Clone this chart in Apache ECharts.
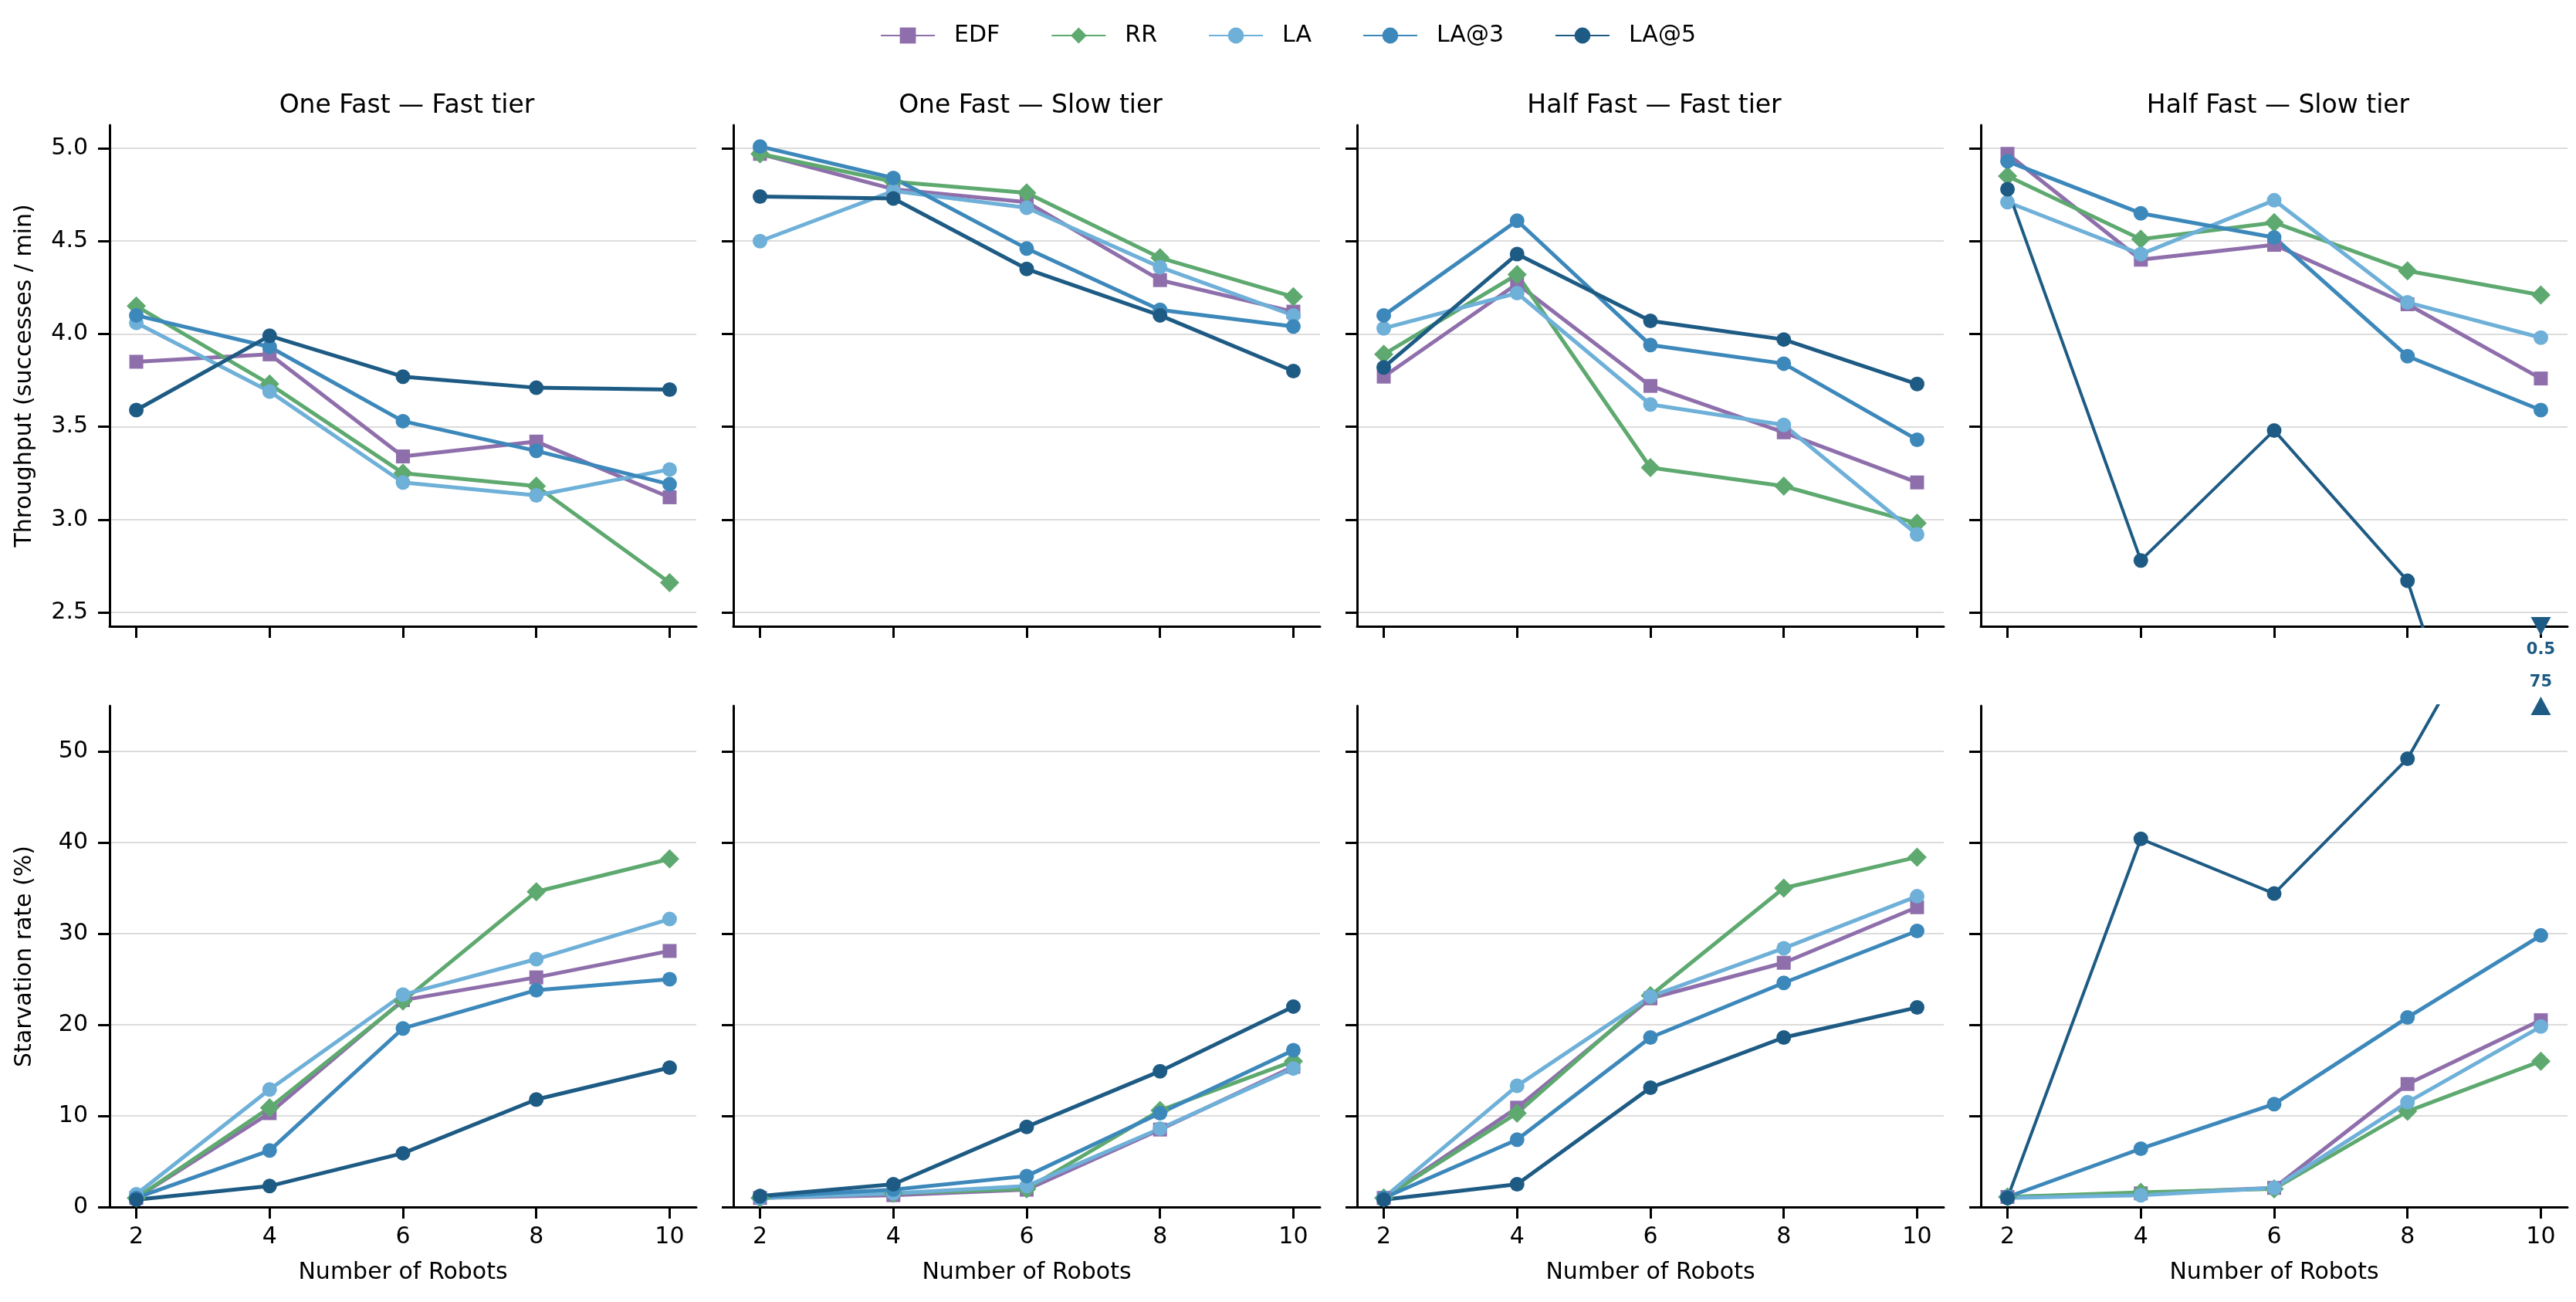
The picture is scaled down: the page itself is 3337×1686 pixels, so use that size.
<!DOCTYPE html>
<html style="height: 100%">
<head>
  <meta charset="utf-8">
</head>
<body style="height: 100%; margin: 0; background: #fff">
  <div id="container" style="height: 100%"></div>

  <script type="text/javascript" src="https://cdn.jsdelivr.net/npm/echarts@6.0.0/dist/echarts.min.js"></script>
  <script type="text/javascript">
    var robots = [2, 4, 6, 8, 10];
    var methods = ['EDF', 'RR', 'LA', 'LA@3', 'LA@5'];
    var panelTitles = ['One Fast — Fast tier', 'One Fast — Slow tier', 'Half Fast — Fast tier', 'Half Fast — Slow tier'];
    var throughputTicks = [2.5, 3.0, 3.5, 4.0, 4.5, 5.0];
    var starvationTicks = [0, 10, 20, 30, 40, 50];

    // one row per method, in the order of `methods`
    var throughputOneFastFast = [
      [3.85, 3.89, 3.34, 3.42, 3.12],
      [4.15, 3.73, 3.25, 3.18, 2.66],
      [4.06, 3.69, 3.20, 3.13, 3.27],
      [4.10, 3.93, 3.53, 3.37, 3.19],
      [3.59, 3.99, 3.77, 3.71, 3.70]
    ];
    var throughputOneFastSlow = [
      [4.97, 4.78, 4.71, 4.29, 4.12],
      [4.97, 4.82, 4.76, 4.41, 4.20],
      [4.50, 4.77, 4.68, 4.36, 4.10],
      [5.01, 4.84, 4.46, 4.13, 4.04],
      [4.74, 4.73, 4.35, 4.10, 3.80]
    ];
    var throughputHalfFastFast = [
      [3.77, 4.27, 3.72, 3.47, 3.20],
      [3.89, 4.32, 3.28, 3.18, 2.98],
      [4.03, 4.22, 3.62, 3.51, 2.92],
      [4.10, 4.61, 3.94, 3.84, 3.43],
      [3.82, 4.43, 4.07, 3.97, 3.73]
    ];
    var throughputHalfFastSlow = [
      [4.97, 4.40, 4.48, 4.16, 3.76],
      [4.85, 4.51, 4.60, 4.34, 4.21],
      [4.71, 4.43, 4.72, 4.17, 3.98],
      [4.93, 4.65, 4.52, 3.88, 3.59],
      [4.78, 2.78, 3.48, 2.67, 0.5]
    ];

    var starvationOneFastFast = [
      [1.0, 10.3, 22.7, 25.2, 28.1],
      [1.0, 10.9, 22.6, 34.6, 38.2],
      [1.4, 12.9, 23.3, 27.2, 31.6],
      [1.0, 6.2, 19.6, 23.8, 25.0],
      [0.8, 2.3, 5.9, 11.8, 15.3]
    ];
    var starvationOneFastSlow = [
      [1.0, 1.3, 1.9, 8.5, 15.4],
      [1.0, 1.5, 2.0, 10.6, 16.0],
      [1.0, 1.5, 2.3, 8.6, 15.2],
      [1.1, 1.9, 3.4, 10.3, 17.2],
      [1.2, 2.5, 8.8, 14.9, 22.0]
    ];
    var starvationHalfFastFast = [
      [1.0, 10.9, 22.9, 26.8, 32.9],
      [1.0, 10.3, 23.2, 35.0, 38.4],
      [1.0, 13.3, 23.1, 28.4, 34.1],
      [1.0, 7.4, 18.6, 24.6, 30.3],
      [0.8, 2.5, 13.1, 18.6, 21.9]
    ];
    var starvationHalfFastSlow = [
      [1.1, 1.5, 2.1, 13.5, 20.5],
      [1.1, 1.6, 2.0, 10.5, 16.0],
      [1.0, 1.3, 2.1, 11.5, 19.8],
      [1.1, 6.4, 11.3, 20.8, 29.8],
      [1.0, 40.4, 34.4, 49.2, 75]
    ];

    var throughput = [throughputOneFastFast, throughputOneFastSlow, throughputHalfFastFast, throughputHalfFastSlow];
    var starvation = [starvationOneFastFast, starvationOneFastSlow, starvationHalfFastFast, starvationHalfFastSlow];

    var colors = ['#8f6fab', '#5ea96f', '#6eb0d8', '#3d88bb', '#1e5b84'];
    var symbols = ['rect', 'diamond', 'circle', 'circle', 'circle'];
    var symbolSizes = [18, 25, 19, 19, 19];
    var font = 'DejaVu Sans';

    var topRange = [2.425, 5.125];
    var bottomRange = [0, 55];

    var dom = document.getElementById("container");
    var myChart = echarts.init(dom);

    var grids = [], xAxes = [], yAxes = [], series = [], titles = [];
    var panelLeft = 142, panelStep = 808, panelWidth = 760;

    function axisCommon() {
      return {
        axisLine: { show: true, onZero: false, lineStyle: { color: '#000', width: 3 } },
        axisTick: { show: true, length: 15, lineStyle: { color: '#000', width: 3 } }
      };
    }

    for (var row = 0; row < 2; row++) {
      for (var p = 0; p < 4; p++) {
        var idx = row * 4 + p;
        grids.push({
          left: panelLeft + p * panelStep,
          width: panelWidth,
          top: row === 0 ? 162 : 914,
          height: 649
        });

        var xa = axisCommon();
        xa.type = 'value';
        xa.gridIndex = idx;
        xa.min = 1.6;
        xa.max = 10.4;
        xa.splitLine = { show: false };
        xa.axisTick.customValues = robots;
        xa.axisLabel = {
          show: row === 1, customValues: robots, margin: 24,
          fontSize: 30, color: '#000', fontFamily: font
        };
        if (row === 1) {
          xa.name = 'Number of Robots';
          xa.nameLocation = 'middle';
          xa.nameGap = 70;
          xa.nameTextStyle = { fontSize: 30, color: '#000', fontFamily: font };
        }
        xAxes.push(xa);

        var ticks = row === 0 ? throughputTicks : starvationTicks;
        var range = row === 0 ? topRange : bottomRange;
        var ya = axisCommon();
        ya.type = 'value';
        ya.gridIndex = idx;
        ya.min = range[0];
        ya.max = range[1];
        ya.axisTick.customValues = ticks;
        ya.splitLine = { show: true, lineStyle: { color: '#dcdcdc', width: 2 } };
        ya.axisLabel = {
          show: p === 0, customValues: ticks, margin: 28,
          fontSize: 30, color: '#000', fontFamily: font,
          formatter: row === 0 ? function (v) { return v.toFixed(1); } : function (v) { return String(v); }
        };
        if (p === 0) {
          ya.name = row === 0 ? 'Throughput (successes / min)' : 'Starvation rate (%)';
          ya.nameLocation = 'middle';
          ya.nameRotate = 90;
          ya.nameGap = 95;
          ya.nameTextStyle = { fontSize: 30, color: '#000', fontFamily: font };
        }
        yAxes.push(ya);

        var values = row === 0 ? throughput[p] : starvation[p];
        for (var m = 0; m < methods.length; m++) {
          series.push({
            type: 'line',
            name: methods[m],
            xAxisIndex: idx,
            yAxisIndex: idx,
            data: robots.map(function (r, i) { return [r, values[m][i]]; }),
            symbol: symbols[m],
            symbolSize: symbolSizes[m],
            showAllSymbol: true,
            clip: true,
            lineStyle: { color: colors[m], width: (p === 3 && m === 4) ? 4 : 5 },
            itemStyle: { color: colors[m], opacity: 1 },
            emphasis: { disabled: true },
            animation: false
          });

          // markers for points outside the visible range
          var outside = [];
          values[m].forEach(function (v, i) {
            if (v < range[0]) outside.push({ value: [robots[i], range[0]], raw: v, dir: 'down' });
            if (v > range[1]) outside.push({ value: [robots[i], range[1]], raw: v, dir: 'up' });
          });
          if (outside.length) {
            series.push({
              type: 'scatter',
              xAxisIndex: idx,
              yAxisIndex: idx,
              clip: false,
              z: 10,
              data: outside.map(function (d) {
                return {
                  value: d.value,
                  raw: d.raw,
                  symbolRotate: d.dir === 'down' ? 180 : 0,
                  label: { position: d.dir === 'down' ? 'bottom' : 'top' }
                };
              }),
              symbol: 'triangle',
              symbolSize: [26, 24],
              itemStyle: { color: colors[m], opacity: 1 },
              label: {
                show: true,
                distance: 8,
                formatter: function (prm) { return String(prm.data.raw); },
                color: colors[m],
                fontWeight: 'bold',
                fontSize: 21,
                fontFamily: font
              },
              emphasis: { disabled: true },
              animation: false
            });
          }
        }
      }
    }

    for (var t = 0; t < 4; t++) {
      titles.push({
        text: panelTitles[t],
        left: panelLeft + t * panelStep + panelWidth / 2,
        top: 116,
        textAlign: 'center',
        textStyle: { fontSize: 33, fontWeight: 'normal', color: '#000', fontFamily: font }
      });
    }

    var option = {
      backgroundColor: '#fff',
      animation: false,
      title: titles,
      legend: {
        data: methods,
        top: 26,
        left: 'center',
        itemWidth: 70,
        itemHeight: 26,
        itemGap: 66,
        textStyle: { fontSize: 30, color: '#000', fontFamily: font, padding: [0, 0, 0, 20] }
      },
      grid: grids,
      xAxis: xAxes,
      yAxis: yAxes,
      series: series
    };

    myChart.setOption(option);
  </script>
</body>
</html>
